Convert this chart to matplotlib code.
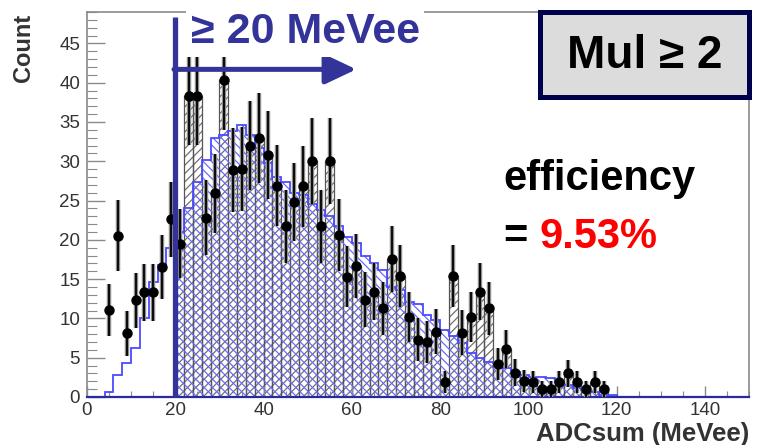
import matplotlib
matplotlib.use("Agg")
import matplotlib.pyplot as plt
from matplotlib.patches import Rectangle
from matplotlib.ticker import MultipleLocator
import numpy as np

plt.rcParams.update({
    "font.family": ["Liberation Sans", "DejaVu Sans"],
    "hatch.linewidth": 0.9,
})

# measured spectrum, 2 MeVee bins (bin centres)
DATA_X = [5, 7, 9, 11, 13, 15, 17, 19, 21, 23, 25, 27, 29, 31, 33, 35, 37, 39,
          41, 43, 45, 47, 49, 51, 53, 55, 57, 59, 61, 63, 65, 67, 69, 71, 73,
          75, 77, 79, 81, 83, 85, 87, 89, 91, 93, 95, 97, 99, 101, 103, 105,
          107, 109, 111, 113, 115, 117]
DATA_Y = [11.1, 20.5, 8.1, 12.3, 13.3, 13.3, 16.5, 22.6, 19.5, 38.3, 38.3,
          22.8, 25.9, 40.4, 28.9, 29.0, 32.0, 33.0, 30.8, 26.9, 21.7, 24.8,
          26.8, 30.0, 21.7, 30.0, 20.6, 15.3, 16.7, 12.4, 13.4, 11.3, 17.6,
          15.4, 10.2, 7.3, 7.0, 8.3, 1.9, 15.4, 8.2, 10.2, 13.4, 11.3, 4.2,
          6.1, 3.1, 2.0, 1.9, 1.0, 1.0, 1.9, 3.0, 1.9, 1.0, 1.9, 1.0]

# simulation, same binning
SIM_X = [5, 7, 9, 11, 13, 15, 17, 19, 21, 23, 25, 27, 29, 31, 33, 35, 37, 39,
         41, 43, 45, 47, 49, 51, 53, 55, 57, 59, 61, 63, 65, 67, 69, 71, 73,
         75, 77, 79, 81, 83, 85, 87, 89, 91, 93, 95, 97, 99, 101, 103, 105,
         107, 109, 111, 113, 115, 117, 119]
SIM_Y = [0.6, 2.8, 4.3, 6.2, 10.0, 14.6, 16.8, 19.0, 21.0, 24.0, 27.4, 30.2,
         33.0, 33.4, 33.8, 34.6, 33.4, 31.7, 29.8, 28.0, 27.4, 26.0, 25.7,
         24.5, 23.8, 23.0, 21.7, 20.4, 19.6, 17.9, 17.0, 16.2, 14.0, 13.6,
         12.1, 11.8, 10.4, 9.8, 8.5, 7.7, 6.9, 5.6, 5.0, 4.5, 4.3, 3.7, 3.2,
         2.8, 2.6, 2.6, 2.4, 1.9, 1.5, 1.1, 0.9, 0.6, 0.3, 0.2]

BIN_W = 2
X_MAX = 150
THRESHOLD = 20
EFFICIENCY = 9.53
MUL_MIN = 2

NAVY = "#333399"
SIM_BLUE = "#4b4bff"
HATCH_BLUE = "#6a6aff"
GREY = "#707070"
FRAME = "#8a8a8a"

data_x = np.array(DATA_X, dtype=float)
data_y = np.array(DATA_Y)
sim_x = np.array(SIM_X, dtype=float)
sim_y = np.array(SIM_Y)

fig = plt.figure(figsize=(7.63, 4.45), dpi=100)
ax = fig.add_axes([0.114, 0.108, 0.868, 0.865])

# data histogram above threshold (single hatch)
sel = data_x > THRESHOLD
ax.bar(data_x[sel], data_y[sel], width=BIN_W, fill=False, hatch="////",
       edgecolor=GREY, linewidth=0, zorder=1)
ax.bar(data_x[sel], data_y[sel], width=BIN_W, fill=False,
       edgecolor="#555555", linewidth=0.9, zorder=1)

# simulation: hatched above threshold, outline everywhere
sel_s = sim_x > THRESHOLD
ax.bar(sim_x[sel_s], sim_y[sel_s], width=BIN_W, fill=False, hatch="\\\\\\\\",
       edgecolor=HATCH_BLUE, linewidth=0, zorder=2)
edges = np.arange(0, X_MAX + BIN_W, BIN_W)
full = np.zeros(len(edges) - 1)
full[((sim_x - BIN_W / 2) / BIN_W).astype(int)] = sim_y
ax.stairs(full, edges, color=SIM_BLUE, linewidth=1.3, baseline=None, zorder=3)
ax.plot([0, X_MAX], [0, 0], color="#2a2aa0", linewidth=1.6, zorder=3,
        clip_on=False)

# data points with errors
err = np.sqrt(data_y)
ax.errorbar(data_x, data_y, yerr=err, fmt="none", ecolor="#8c8c8c",
            elinewidth=3.2, capsize=0, zorder=4)
ax.errorbar(data_x, data_y, yerr=err, fmt="o", color="black", ms=6.5,
            elinewidth=1.3, capsize=0, zorder=5)

# threshold marker
ax.plot([THRESHOLD, THRESHOLD], [0, 48.4], color=NAVY, linewidth=3.8,
        zorder=6, clip_on=False, solid_capstyle="butt")
ax.annotate("", xy=(61, 41.7), xytext=(THRESHOLD - 0.3, 41.7),
            arrowprops=dict(arrowstyle="-|>,head_length=0.95,head_width=0.45",
                            color=NAVY, lw=3.6, mutation_scale=20,
                            shrinkA=0, shrinkB=0),
            zorder=6)
ax.text(23.5, 45.0, f"\u2265 {THRESHOLD} MeVee", color=NAVY, fontsize=31,
        fontweight="bold", ha="left", va="baseline", zorder=7, clip_on=False,
        bbox=dict(boxstyle="square,pad=0.1", facecolor="white",
                  edgecolor="none"))

# multiplicity box
ax.add_patch(Rectangle((0.684, 0.779), 0.316, 0.221, transform=ax.transAxes,
                       facecolor="#dcdcdc", edgecolor="#00004d",
                       linewidth=3.6, zorder=7, clip_on=False))
ax.text(0.842, 0.885, f"Mul \u2265 {MUL_MIN}", transform=ax.transAxes,
        fontsize=33, fontweight="bold", ha="center", va="center", zorder=8)

# efficiency
ax.text(0.628, 0.538, "efficiency", transform=ax.transAxes, fontsize=30,
        fontweight="bold", ha="left", va="baseline", zorder=7)
ax.text(0.628, 0.387, "=", transform=ax.transAxes, fontsize=30,
        fontweight="bold", ha="left", va="baseline", zorder=7)
ax.text(0.684, 0.387, f"{EFFICIENCY:.2f}%", transform=ax.transAxes,
        fontsize=30, fontweight="bold", color="red", ha="left",
        va="baseline", zorder=7)

# axes
ax.set_xlim(0, X_MAX)
ax.set_ylim(0, 49)
ax.set_xticks(np.arange(0, 141, 20))
ax.set_yticks(np.arange(0, 46, 5))
ax.xaxis.set_minor_locator(MultipleLocator(5))
ax.yaxis.set_minor_locator(MultipleLocator(1))
ax.tick_params(axis="both", which="both", direction="in", color=FRAME,
               labelcolor="#333333", labelsize=13.5)
ax.tick_params(axis="y", which="major", length=13, width=1.0, pad=5)
ax.tick_params(axis="y", which="minor", length=7, width=0.8)
ax.tick_params(axis="x", which="major", length=8, width=1.0, pad=4)
ax.tick_params(axis="x", which="minor", length=4, width=0.8)
for s in ax.spines.values():
    s.set_color(FRAME)
    s.set_linewidth(1.2)

ax.set_ylabel("Count", fontsize=17, fontweight="bold", color="#333333")
ax.yaxis.set_label_coords(-0.079, 0.908)
ax.set_xlabel("ADCsum (MeVee)", fontsize=18.5, fontweight="bold",
              color="#333333", loc="right")
ax.xaxis.set_label_coords(1.0, -0.066)

fig.savefig("out.png", dpi=100, facecolor="white")
